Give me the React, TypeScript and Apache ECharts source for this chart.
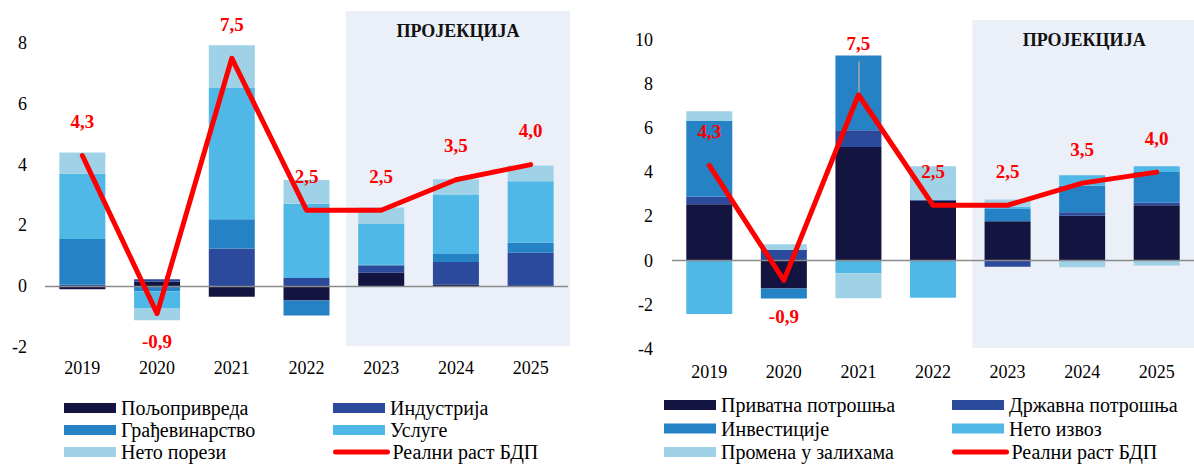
import React, { useEffect, useRef } from "react";
import * as echarts from "echarts";

// ---------- data ----------
const years = ["2019", "2020", "2021", "2022", "2023", "2024", "2025"];

// Left chart: contributions by production side
const agriculture = [-0.1, 0.15, -0.35, -0.47, 0.44, 0.06, 0];
const industry = [0.05, 0.08, 1.24, 0.27, 0.24, 0.74, 1.1];
const construction = [1.5, -0.17, 0.96, -0.49, 0.03, 0.26, 0.33];
const services = [2.15, -0.55, 4.32, 2.44, 1.35, 1.94, 2.02];
const netTaxes = [0.7, -0.4, 1.41, 0.78, 0.53, 0.52, 0.52];

// Right chart: contributions by expenditure side
const privateCons = [2.55, -1.27, 5.14, 2.7, 1.78, 2.02, 2.5];
const govCons = [0.33, 0.47, 0.75, 0.05, -0.28, 0.16, 0.13];
const investment = [3.43, -0.45, 3.39, 0, 0.55, 1.2, 1.38];
const netExports = [-2.42, 0, -0.58, -1.68, 0.1, 0.48, 0.26];
const inventories = [0.44, 0.27, -1.13, 1.52, 0.33, -0.31, -0.23];

// Real GDP growth (both charts)
const gdpGrowth = [4.3, -0.9, 7.5, 2.5, 2.5, 3.5, 4.0];

// gray high-low line on the right chart
const hiLoYear = "2021";
const hiLoFrom = 7.5;
const hiLoTo = 9.0;

const leftTicks = { min: -2, max: 8, interval: 2 };
const rightTicks = { min: -4, max: 10, interval: 2 };

const projectionYears = ["2023", "2025"];
const projectionLabel = "ПРОЈЕКЦИЈА";

const leftNames = ["Пољопривреда", "Индустрија", "Грађевинарство", "Услуге", "Нето порези"];
const rightNames = ["Приватна потрошња", "Државна потрошња", "Инвестиције", "Нето извоз", "Промена у залихама"];
const gdpName = "Реални раст БДП";

// legend grid order (column-major: col 1 then col 2)
const leftLegendOrder = [leftNames[0], leftNames[2], leftNames[4], leftNames[1], leftNames[3], gdpName];
const rightLegendOrder = [rightNames[0], rightNames[2], rightNames[4], rightNames[1], rightNames[3], gdpName];

// ---------- styles ----------
const COLORS = ["#13143f", "#2b4a9b", "#2482c5", "#50b8e6", "#9fd1e7"];
const FONT = "'Liberation Serif', 'DejaVu Serif', serif";
const SHADE = "#eaeff8";

const fmt = (v: number) => v.toFixed(1).replace(".", ",");

export default function App() {
  const ref = useRef<HTMLDivElement>(null);

  useEffect(() => {
    if (!ref.current) return;
    const chart = echarts.init(ref.current, undefined, { renderer: "svg" });

    const barSeries = (names: string[], values: number[][], axis: number, stack: string) =>
      names.map((name, i) => ({
        name,
        type: "bar",
        stack,
        xAxisIndex: axis,
        yAxisIndex: axis,
        barWidth: 46,
        data: values[i],
        itemStyle: { color: COLORS[i] },
        z: 2,
      }));

    const lineSeries = (axis: number, negDist: number, specialIdx: number, specialDist: number, extraMark: any[]) => ({
      name: gdpName,
      type: "line",
      xAxisIndex: axis,
      yAxisIndex: axis,
      symbol: "circle",
      symbolSize: 1,
      z: 5,
      lineStyle: { color: "#ff0000", width: 5, cap: "round", join: "round" },
      itemStyle: { color: "#ff0000" },
      data: gdpGrowth.map((v, i) => {
        if (v < 0) return { value: v, label: { position: "bottom", distance: negDist } };
        if (i === specialIdx) return { value: v, label: { position: "top", distance: specialDist } };
        return v;
      }),
      label: {
        show: true,
        position: "top",
        distance: 24,
        color: "#ff0000",
        fontWeight: "bold",
        fontSize: 19,
        fontFamily: FONT,
        formatter: (p: any) => fmt(p.value),
      },
      markLine: {
        silent: true,
        symbol: "none",
        label: { show: false },
        animation: false,
        data: [
          { yAxis: 0, lineStyle: { color: "#8a8a8a", width: 1.3, type: "solid" } },
          ...extraMark,
        ],
      },
    });

    const xAxis = (grid: number, margin: number) => ({
      type: "category",
      gridIndex: grid,
      data: years,
      axisLine: { show: false, onZero: false },
      axisTick: { show: false },
      axisLabel: { color: "#000", fontSize: 18, fontFamily: FONT, margin },
      position: "bottom",
    });
    const yAxis = (grid: number, t: any, margin: number) => ({
      type: "value",
      gridIndex: grid,
      min: t.min,
      max: t.max,
      interval: t.interval,
      axisLine: { show: false },
      axisTick: { show: false },
      splitLine: { show: false },
      axisLabel: { color: "#000", fontSize: 18, fontFamily: FONT, margin },
    });

    // one legend component per item so that columns align exactly
    const legendItems = (order: string[], colX: number[], rowY: number[]) =>
      order.map((name, k) => {
        const col = Math.floor(k / 3);
        const row = k % 3;
        const isLine = name === gdpName;
        return {
          orient: "horizontal",
          left: colX[col],
          top: rowY[row] - 10,
          padding: 0,
          itemWidth: 52,
          itemHeight: 10,
          itemGap: 0,
          selectedMode: false,
          textStyle: { color: "#000", fontSize: 20, fontFamily: FONT, lineHeight: 20 },
          data: [
            isLine
              ? { name, itemStyle: { opacity: 0 }, lineStyle: { width: 5, cap: "round", color: "#ff0000" } }
              : { name, icon: "rect" },
          ],
        };
      });

    chart.setOption({
      animation: false,
      grid: [
        { left: 45, top: 43, width: 523, height: 304 },
        { left: 672, top: 39.5, width: 523, height: 309.4 },
      ],
      xAxis: [xAxis(0, 12), xAxis(1, 14)],
      yAxis: [yAxis(0, leftTicks, 18), yAxis(1, rightTicks, 19)],
      legend: [
        ...legendItems(leftLegendOrder, [64, 333], [408, 430, 452]),
        ...legendItems(rightLegendOrder, [664, 952], [405, 428.5, 452]),
      ],
      series: [
        ...barSeries(leftNames, [agriculture, industry, construction, services, netTaxes], 0, "L"),
        lineSeries(0, 18, -1, 24, []),
        ...barSeries(rightNames, [privateCons, govCons, investment, netExports, inventories], 1, "R"),
        lineSeries(1, 26, 2, 41, [
          [
            { coord: [hiLoYear, hiLoTo], lineStyle: { color: "#a6a6a6", width: 1.5, type: "solid" } },
            { coord: [hiLoYear, hiLoFrom] },
          ],
        ]),
      ],
    });

    // projection shading computed from the axes
    const shade = (axis: number, minVal: number, top: number) => {
      const xa = chart.convertToPixel({ xAxisIndex: axis }, projectionYears[0]) as number;
      const xb = chart.convertToPixel({ xAxisIndex: axis }, projectionYears[1]) as number;
      const xNext = chart.convertToPixel({ xAxisIndex: axis }, years[5]) as number;
      const band = xNext - xa;
      const x0 = xa - band / 2 + 2;
      const x1 = xb + band / 2 + 2;
      const yb = (chart.convertToPixel({ yAxisIndex: axis }, minVal) as number) - 1;
      return [
        {
          type: "rect",
          z: 0,
          silent: true,
          shape: { x: x0, y: top, width: x1 - x0, height: yb - top },
          style: { fill: SHADE },
        },
        {
          type: "text",
          z: 10,
          silent: true,
          x: (x0 + x1) / 2,
          y: top + 20,
          style: {
            text: projectionLabel,
            fill: "#111",
            font: `bold 18px ${FONT}`,
            textAlign: "center",
            textVerticalAlign: "middle",
          },
        },
      ];
    };

    chart.setOption({
      graphic: [...shade(0, leftTicks.min, 11), ...shade(1, rightTicks.min, 20)],
    });

    return () => chart.dispose();
  }, []);

  return (
    <div
      ref={ref}
      style={{ position: "fixed", left: 0, top: 0, width: 1194, height: 464, background: "#fff" }}
    />
  );
}
